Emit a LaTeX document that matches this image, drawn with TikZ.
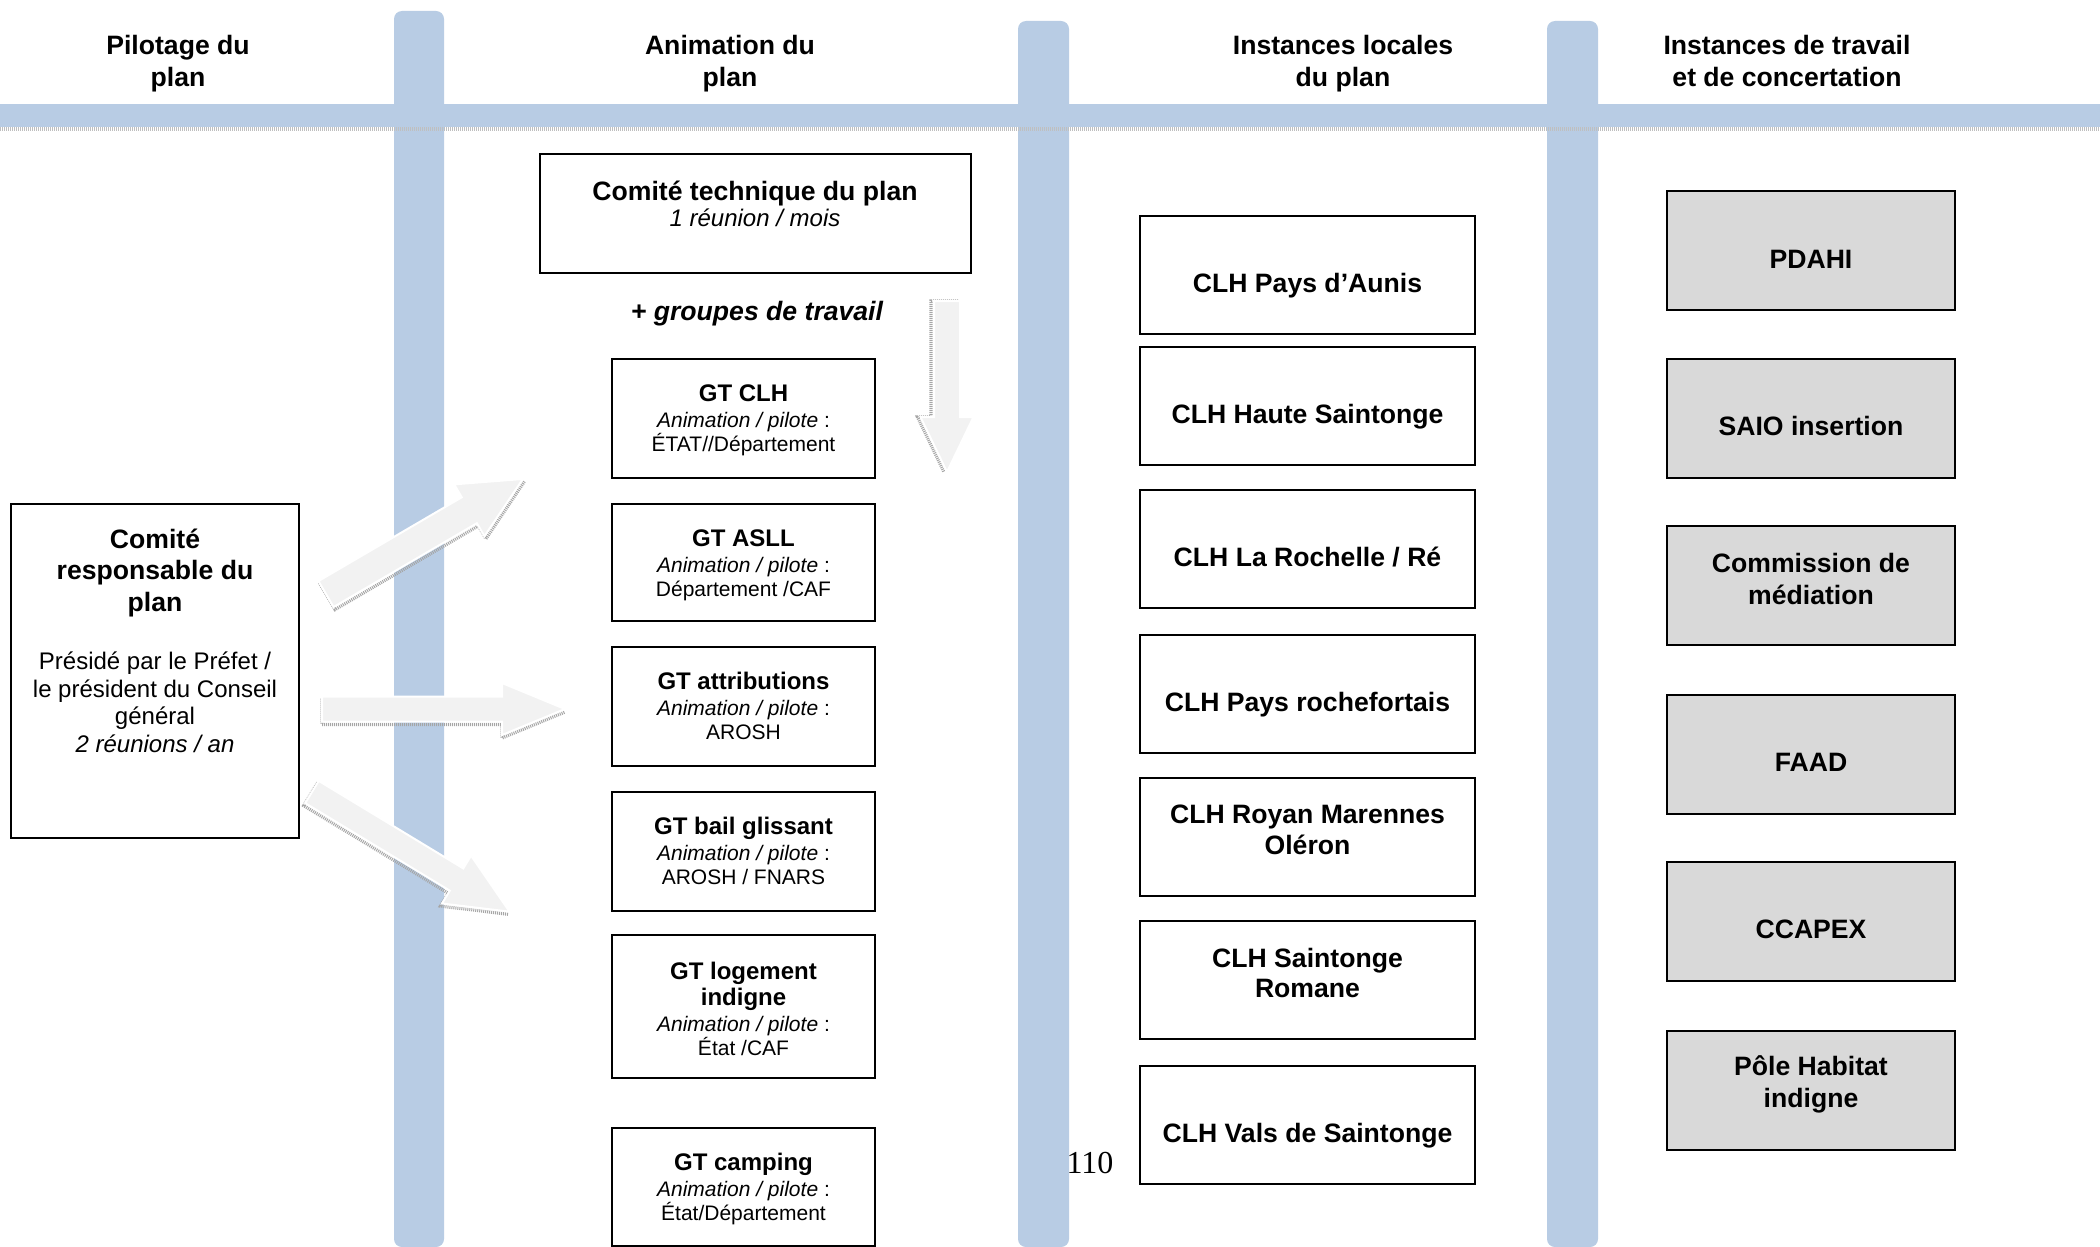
\documentclass[tikz,border=0pt]{standalone}
\usepackage{fontspec}
\setmainfont{Liberation Sans}
\newfontfamily\pageserif{Liberation Serif}
\usetikzlibrary{fit}
\definecolor{barblue}{RGB}{184,204,228}
\definecolor{arrfill}{RGB}{242,242,242}
\definecolor{boxgray}{RGB}{217,217,217}
\newcommand\fntBig{\fontsize{13.3}{16}\selectfont\bfseries}
\newcommand\fntReg{\fontsize{12}{14}\selectfont}
\newcommand\fntGtB{\fontsize{12}{14}\selectfont\bfseries}
\newcommand\fntGtR{\fontsize{10.5}{12}\selectfont}
\newcommand\tline[5]{\node[anchor=base,inner sep=0pt,font=#4] (#1) at (#2,#3) {#5};}
\newcommand\blockarrow[7]{%
  \begin{scope}[shift={(#1,#2)},rotate=#3]
    \draw[arrshadow] (0,{-#5+2}) -- (0,{#5+3}) -- ({#4-#7},{#5+3}) -- ({#4-#7},{#6+3}) -- (#4,3);
    \filldraw[arrbody] (0,-#5) -- ({#4-#7},-#5) -- ({#4-#7},-#6) -- (#4,0) -- ({#4-#7},#6) -- ({#4-#7},#5) -- (0,#5) -- cycle;
  \end{scope}}
\begin{document}
\begin{tikzpicture}[x=0.5pt,y=-0.5pt,
  bar/.style={fill=barblue},
  arrbody/.style={fill=arrfill,draw=white,line width=1pt},
  arrshadow/.style={draw=black!35,line width=1.6pt,dash pattern=on 0.5pt off 0.5pt},
  wbox/.style={draw=black,line width=1.4pt,fill=white,inner sep=0pt},
  gbox/.style={draw=black,line width=1.4pt,fill=boxgray,inner sep=0pt}]
\useasboundingbox (0,0) rectangle (2100,1247);
\fill[white] (0,0) rectangle (2100,1247);
% bars
\fill[bar,rounded corners=4pt] (394,11) rectangle (444,1247);
\fill[bar,rounded corners=4pt] (1018,21) rectangle (1069,1247);
\fill[bar,rounded corners=4pt] (1547,21) rectangle (1598,1247);
\fill[bar] (0,104) rectangle (2100,127);
\draw[draw=black!25,line width=2pt,dash pattern=on 0.5pt off 0.5pt] (0,129) -- (2100,129);
% headers
\tline{h1a}{178}{54.5}{\fntBig}{Pilotage du}
\tline{h1b}{178}{86.5}{\fntBig}{plan}
\tline{h2a}{730}{54.5}{\fntBig}{Animation du}
\tline{h2b}{730}{86.5}{\fntBig}{plan}
\tline{h3a}{1343}{54.5}{\fntBig}{Instances locales}
\tline{h3b}{1343}{86.5}{\fntBig}{du plan}
\tline{h4a}{1787}{54.5}{\fntBig}{Instances de travail}
\tline{h4b}{1787}{86.5}{\fntBig}{et de concertation}
% arrows
\blockarrow{326}{594}{30.3}{228}{15}{30}{62}
\blockarrow{322}{709}{0}{243}{12.5}{26}{63}
\blockarrow{312}{792}{-31.2}{231}{13}{28}{62}
\blockarrow{947}{301}{-90}{171}{13}{26.5}{55}
% comite responsable
\node[wbox,fit={(11,504) (299,838)}] (cr) {};
\tline{cr1}{155}{548}{\fntBig}{Comité}
\tline{cr2}{155}{579}{\fntBig}{responsable du}
\tline{cr3}{155}{611}{\fntBig}{plan}
\tline{cr4}{155}{669}{\fntReg}{Présidé par le Préfet /}
\tline{cr5}{155}{697}{\fntReg}{le président du Conseil}
\tline{cr6}{155}{724}{\fntReg}{général}
\tline{cr7}{155}{752}{\fntReg\itshape}{2 réunions / an}
% comite technique
\node[wbox,fit={(540,154) (971,273)}] (ct) {};
\tline{ct1}{755}{200}{\fntBig}{Comité technique du plan}
\tline{ct2}{755}{227}{\fntReg\itshape}{1 réunion / mois}
\tline{gdt}{757}{320}{\fntBig\itshape}{+ groupes de travail}
% GT boxes
\node[wbox,fit={(612,359) (875,478)}] (gt1) {};
\tline{gt1a}{743.5}{401}{\fntGtB}{GT CLH}
\tline{gt1b}{743.5}{427}{\fntGtR}{\textit{Animation / pilote} :}
\tline{gt1c}{743.5}{451}{\fntGtR}{ÉTAT//Département}
\node[wbox,fit={(612,504) (875,621)}] (gt2) {};
\tline{gt2a}{743.5}{546}{\fntGtB}{GT ASLL}
\tline{gt2b}{743.5}{572}{\fntGtR}{\textit{Animation / pilote} :}
\tline{gt2c}{743.5}{596}{\fntGtR}{Département /CAF}
\node[wbox,fit={(612,647) (875,766)}] (gt3) {};
\tline{gt3a}{743.5}{689}{\fntGtB}{GT attributions}
\tline{gt3b}{743.5}{715}{\fntGtR}{\textit{Animation / pilote} :}
\tline{gt3c}{743.5}{739}{\fntGtR}{AROSH}
\node[wbox,fit={(612,792) (875,911)}] (gt4) {};
\tline{gt4a}{743.5}{834}{\fntGtB}{GT bail glissant}
\tline{gt4b}{743.5}{860}{\fntGtR}{\textit{Animation / pilote} :}
\tline{gt4c}{743.5}{884}{\fntGtR}{AROSH / FNARS}
\node[wbox,fit={(612,935) (875,1078)}] (gt5) {};
\tline{gt5a}{743.5}{979}{\fntGtB}{GT logement}
\tline{gt5b}{743.5}{1005}{\fntGtB}{indigne}
\tline{gt5c}{743.5}{1031}{\fntGtR}{\textit{Animation / pilote} :}
\tline{gt5d}{743.5}{1055}{\fntGtR}{État /CAF}
\node[wbox,fit={(612,1128) (875,1246)}] (gt6) {};
\tline{gt6a}{743.5}{1170}{\fntGtB}{GT camping}
\tline{gt6b}{743.5}{1196}{\fntGtR}{\textit{Animation / pilote} :}
\tline{gt6c}{743.5}{1220}{\fntGtR}{État/Département}
% CLH boxes
\node[wbox,fit={(1140,216) (1475,334)}] (clh1) {};
\tline{clh1a}{1307.5}{292}{\fntBig}{CLH Pays d’Aunis}
\node[wbox,fit={(1140,347) (1475,465)}] (clh2) {};
\tline{clh2a}{1307.5}{423}{\fntBig}{CLH Haute Saintonge}
\node[wbox,fit={(1140,490) (1475,608)}] (clh3) {};
\tline{clh3a}{1307.5}{566}{\fntBig}{CLH La Rochelle / Ré}
\node[wbox,fit={(1140,635) (1475,753)}] (clh4) {};
\tline{clh4a}{1307.5}{711}{\fntBig}{CLH Pays rochefortais}
\node[wbox,fit={(1140,778) (1475,896)}] (clh5) {};
\tline{clh5a}{1307.5}{823}{\fntBig}{CLH Royan Marennes}
\tline{clh5b}{1307.5}{854}{\fntBig}{Oléron}
\node[wbox,fit={(1140,921) (1475,1039)}] (clh6) {};
\tline{clh6a}{1307.5}{967}{\fntBig}{CLH Saintonge}
\tline{clh6b}{1307.5}{997}{\fntBig}{Romane}
\node[wbox,fit={(1140,1066) (1475,1184)}] (clh7) {};
\tline{clh7a}{1307.5}{1142}{\fntBig}{CLH Vals de Saintonge}
% gray boxes
\node[gbox,fit={(1667,191) (1955,310)}] (g1) {};
\tline{g1a}{1811}{268}{\fntBig}{PDAHI}
\node[gbox,fit={(1667,359) (1955,478)}] (g2) {};
\tline{g2a}{1811}{435}{\fntBig}{SAIO insertion}
\node[gbox,fit={(1667,526) (1955,645)}] (g3) {};
\tline{g3a}{1811}{572}{\fntBig}{Commission de}
\tline{g3b}{1811}{604}{\fntBig}{médiation}
\node[gbox,fit={(1667,695) (1955,814)}] (g4) {};
\tline{g4a}{1811}{771}{\fntBig}{FAAD}
\node[gbox,fit={(1667,862) (1955,981)}] (g5) {};
\tline{g5a}{1811}{938}{\fntBig}{CCAPEX}
\node[gbox,fit={(1667,1031) (1955,1150)}] (g6) {};
\tline{g6a}{1811}{1075}{\fntBig}{Pôle Habitat}
\tline{g6b}{1811}{1107}{\fntBig}{indigne}
% page number
\tline{pg}{1090}{1173}{\pageserif\fontsize{16}{18}\selectfont}{110}
\end{tikzpicture}
\end{document}
